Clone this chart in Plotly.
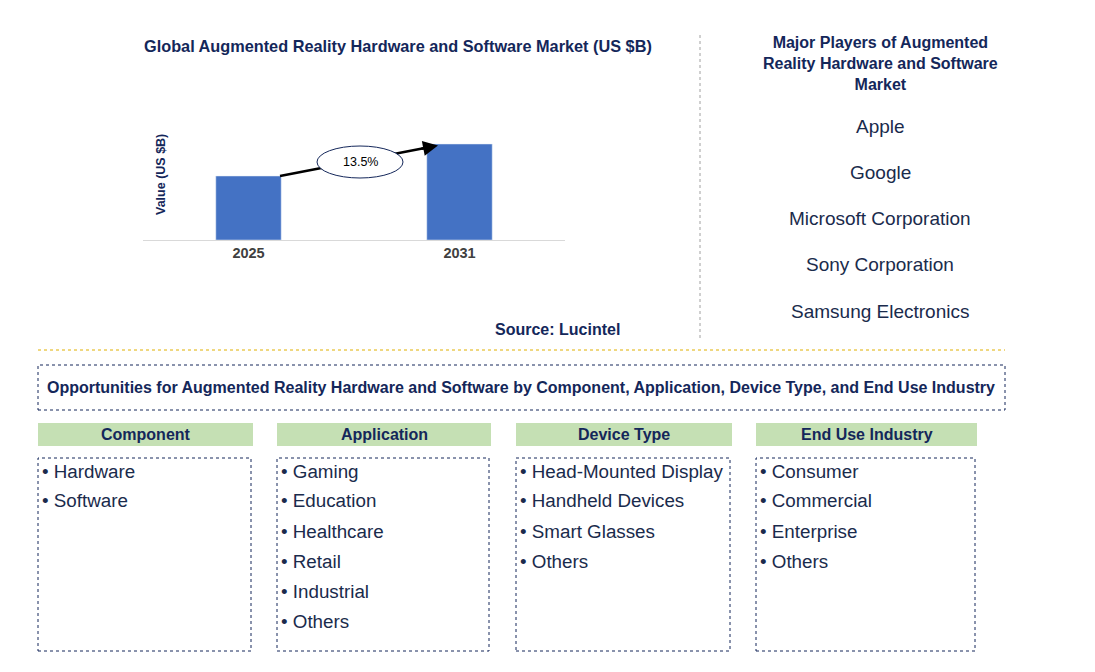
import plotly.graph_objects as go

W, H = 1095, 672
years = ["2025", "2031"]
values = [2.0, 3.0]
cagr = "13.5%"
players = ["Apple", "Google", "Microsoft Corporation", "Sony Corporation", "Samsung Electronics"]
headers = ["Component", "Application", "Device Type", "End Use Industry"]
items = [
    ["Hardware", "Software"],
    ["Gaming", "Education", "Healthcare", "Retail", "Industrial", "Others"],
    ["Head-Mounted Display", "Handheld Devices", "Smart Glasses", "Others"],
    ["Consumer", "Commercial", "Enterprise", "Others"],
]

OFF = 8
def px(x): return (x - OFF) / W
def py(y): return 1 - (y - OFF) / H

NAVY = "#14275a"
FONT = "Liberation Sans, Arial"

fig = go.Figure()
fig.add_trace(go.Bar(x=years, y=values, marker_color="#4472c4", width=0.31))
fig.update_layout(
    width=W, height=H, margin=dict(l=0, r=0, t=0, b=0),
    paper_bgcolor="white", plot_bgcolor="white", showlegend=False,
    font=dict(family=FONT),
    xaxis=dict(domain=[px(143), px(565)], type="category", range=[-0.5, 1.5],
               showline=True, linecolor="#d9d9d9", ticks="", showgrid=False,
               tickprefix="<b>", ticksuffix="</b>",
               tickfont=dict(size=14.5, color="#404040", family=FONT)),
    yaxis=dict(domain=[py(240), py(100)], range=[0, 4.375], showticklabels=False,
               showgrid=False, zeroline=False),
)

ann = []
shapes = []
def text(x, y, t, size=14, color=NAVY, bold=False, xanchor="center", angle=0):
    ann.append(dict(x=px(x), y=py(y), xref="paper", yref="paper", showarrow=False,
                    text=f"<b>{t}</b>" if bold else t, xanchor=xanchor, yanchor="middle",
                    textangle=angle, font=dict(size=size, color=color, family=FONT)))

text(398, 46, "Global Augmented Reality Hardware and Software Market (US $B)", 16.3, bold=True)
text(557, 329, "Source: Lucintel", 16, bold=True)
text(880, 63, "Major Players of Augmented<br>Reality Hardware and Software<br>Market", 16, bold=True)
text(161, 175, "Value (US $B)", 12.5, bold=True, angle=-90)
for i, p in enumerate(players):
    text(880, 126 + i * 46.3, p, 19, color="#1a2b4c")

shapes.append(dict(type="line", xref="paper", yref="paper", x0=px(280), y0=py(176), x1=px(430), y1=py(147),
                   line=dict(color="black", width=2.5)))
shapes.append(dict(type="circle", xref="paper", yref="paper", x0=px(317), x1=px(403),
                   y0=py(178), y1=py(146), line=dict(color="#14275a", width=1), fillcolor="white"))
ann.append(dict(x=px(438), y=py(145.5), ax=-18, ay=3.5, xref="paper", yref="paper",
                axref="pixel", ayref="pixel", text="", showarrow=True, arrowhead=2, arrowsize=1.2,
                arrowwidth=2.5, arrowcolor="black", standoff=0))
text(360, 162, cagr, 12.5, color="black")

shapes.append(dict(type="line", xref="paper", yref="paper", x0=px(700), x1=px(700), y0=py(35), y1=py(340),
                   line=dict(color="#a0a0a0", width=1, dash="dot")))
shapes.append(dict(type="line", xref="paper", yref="paper", x0=px(38), x1=px(1005), y0=py(350), y1=py(350),
                   line=dict(color="#e0b000", width=1, dash="dot")))
shapes.append(dict(type="rect", xref="paper", yref="paper", x0=px(38), x1=px(1005), y0=py(410), y1=py(365),
                   line=dict(color="#14275a", width=1, dash="dot")))
text(521, 387, "Opportunities for Augmented Reality Hardware and Software by Component, Application, Device Type, and End Use Industry", 16, bold=True)

cols = [(38, 253), (277, 491), (516, 732), (756, 977)]
for (x0, x1), h, its in zip(cols, headers, items):
    shapes.append(dict(type="rect", xref="paper", yref="paper", x0=px(x0), x1=px(x1), y0=py(446), y1=py(423),
                       line=dict(width=0), fillcolor="#c5e0b4"))
    text((x0 + x1) / 2, 434, h, 16, bold=True)
    shapes.append(dict(type="rect", xref="paper", yref="paper", x0=px(x0), x1=px(x1 - 2), y0=py(651), y1=py(458),
                       line=dict(color="#14275a", width=1, dash="dot")))
    for j, it in enumerate(its):
        text(x0 + 2, 471 + j * 30, "• " + it, 18.8, color="#1a2b4c", xanchor="left")

fig.update_layout(annotations=ann, shapes=shapes)
fig.write_html("out.html")
